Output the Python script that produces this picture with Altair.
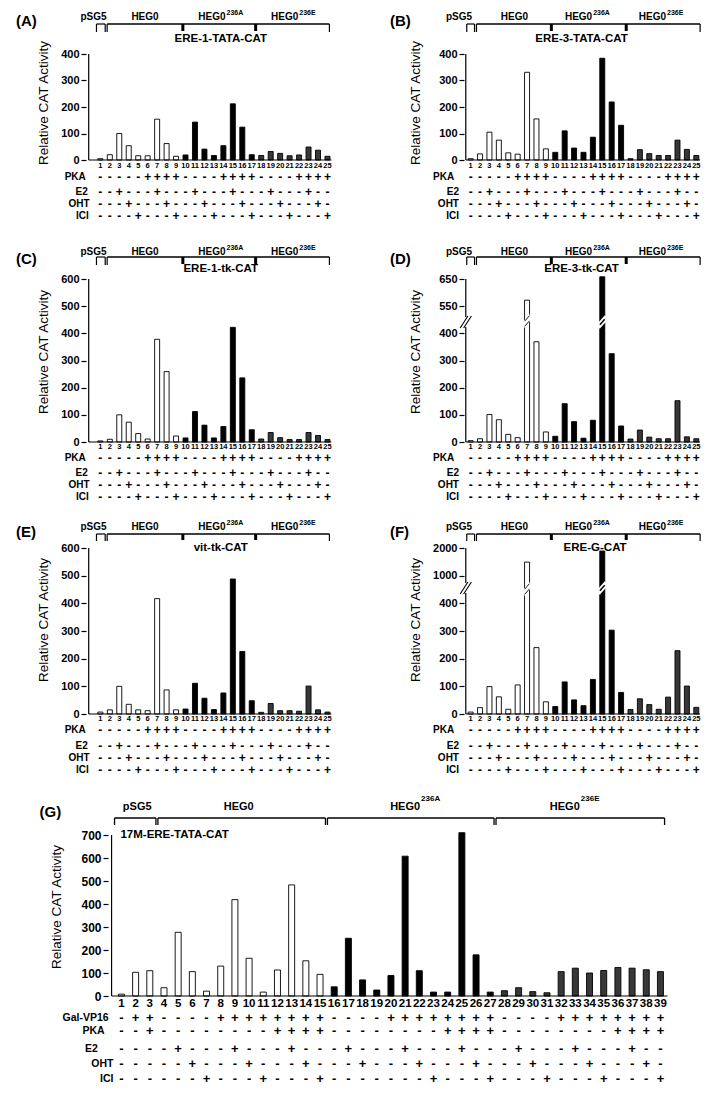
import altair as alt
import pandas as pd

FONT = "Liberation Sans"
BLACK, WHITE, STIPPLE = "#000000", "#ffffff", "#383838"

# ---------------- data ----------------
idx25 = list(range(1, 26))
idx39 = list(range(1, 40))

vals_A = [5, 20, 100, 54, 16, 16, 154, 62, 14, 19, 143, 41, 17, 54, 212, 124, 20, 17, 32, 25, 16, 19, 49, 37, 14]
vals_B = [5, 23, 105, 75, 27, 22, 331, 155, 42, 29, 110, 45, 29, 86, 384, 219, 131, 5, 39, 24, 17, 17, 75, 40, 17]
vals_C = [4, 10, 100, 73, 31, 11, 378, 259, 22, 15, 112, 62, 15, 57, 422, 236, 45, 11, 35, 16, 9, 9, 35, 24, 9]
vals_D = [5, 12, 101, 82, 28, 16, 572, 369, 37, 21, 141, 75, 14, 80, 658, 325, 59, 11, 44, 18, 12, 12, 152, 19, 12]
vals_E = [7, 15, 100, 35, 15, 12, 417, 87, 15, 18, 111, 57, 16, 76, 488, 226, 48, 6, 38, 12, 12, 10, 101, 15, 7]
vals_F = [7, 23, 99, 62, 17, 105, 1490, 240, 44, 27, 116, 51, 30, 125, 1890, 303, 78, 16, 55, 34, 17, 61, 229, 101, 24]
vals_G = [8, 103, 110, 36, 277, 106, 21, 130, 419, 164, 17, 113, 483, 153, 94,
          40, 251, 70, 26, 89, 608, 110, 17, 17, 710, 179, 17,
          23, 36, 19, 14, 106, 121, 100, 111, 124, 121, 114, 106]

groups25 = ["pSG5"] + ["HEG0"] * 8 + ["236A"] * 8 + ["236E"] * 8
groups39 = ["pSG5"] * 3 + ["HEG0"] * 12 + ["236A"] * 12 + ["236E"] * 12

row_names25 = ["PKA", "E2", "OHT", "ICI"]
pka25 = "-----++++----++++----++++"
e2_25 = "--+---+---+---+---+---+--"
oht25 = "---+---+---+---+---+---+-"
ici25 = "----+---+---+---+---+---+"

row_names39 = ["Gal-VP16", "PKA", "E2", "OHT", "ICI"]
vp16_39 = "-++----++++++++----++++++++----++++++++"
pka39 = "--+--------++++--------++++--------++++"
e2_39 = "----+---+---+---+---+---+---+---+---+--"
oht39 = "-----+---+---+---+---+---+---+---+---+-"
ici39 = "------+---+---+-------+---+---+---+---+"

group_labels = ["pSG5", "HEG0", "HEG0", "HEG0"]
group_sups = ["", "", "236A", "236E"]

ticks400 = [0, 100, 200, 300, 400]
ticks600 = [0, 100, 200, 300, 400, 500, 600]
ticks700 = [0, 100, 200, 300, 400, 500, 600, 700]
labels_D = {500: "550", 600: "650"}
labels_F = {500: "1000", 600: "2000"}


def disp_D(v):
    return v if v <= 450 else v - 50


def disp_F(v):
    return v if v <= 450 else 500 + (v - 1000) / 10


# ---------------- layout (page pixels) ----------------
SMALL = dict(bw=5, idx_size=7.5, sym_size=12, rowlab_size=10, lab_size=10, sup_size=7,
             title_size=11.5, tick_size=11)
COL_L = dict(left=8, right=348, bar1=98, sp=9.75, axis=86, base_end=336,
             ytitle_x=40, letter_x=11, rowlab=[83, 85, 87, 86],
             lab_p=91, lab_h=144, lab_a=227, lab_e=302,
             br_p=(94, 103), br_m=(105, 334), br_t=(183, 258))
COL_R = dict(left=348, right=709, bar1=469, sp=9.67, axis=464, base_end=705,
             ytitle_x=413, letter_x=386, rowlab=[452, 457, 457, 457],
             lab_p=457, lab_h=514, lab_a=594, lab_e=670,
             br_p=(465, 473), br_m=(475, 705), br_t=(552, 629))
ROW1 = dict(top=8, bottom=242, zero=159, ppu=106 / 400, index=165, table=[175.5, 190.5, 202.7, 214.9],
            lab=16, sup=12, line=23, leg=31, letter=20, title=38, ytitle_y=102)
ROW2 = dict(top=242, bottom=514, zero=440, ppu=163 / 600, index=445, table=[455.5, 471, 483.2, 495.4],
            lab=250, sup=246, line=255, leg=263, letter=257, title=267, ytitle_y=350)
ROW3 = dict(top=514, bottom=790, zero=712, ppu=166 / 600, index=717, table=[727.5, 743.5, 755.7, 767.9],
            lab=525, sup=521, line=532, leg=539, letter=530, title=546, ytitle_y=618)
GEO_G = dict(left=8, right=709, top=790, bottom=1087, bar1=118, sp=14.39, zero=994, ppu=161 / 700,
             axis=108, base_end=672, index=1002, table=[1015.5, 1029, 1047, 1062, 1077],
             rowlab=[105, 101, 94, 110, 110], ytitle_x=53, ytitle_y=905, letter_x=35, letter=810,
             lab=805, sup=797, line=816, leg=823, title=833,
             lab_p=134, lab_h=237, lab_a=421, lab_e=583,
             brackets=[(111, 153), (155, 325), (327, 496), (498, 669)],
             bw=6, idx_size=11.5, sym_size=13, rowlab_size=10.5, lab_size=11, sup_size=8,
             title_size=11.5, tick_size=12)


def make_panel(geo, letter, title, title_x, idx, vals, groups, rows, ticks,
               label_map=None, disp=None, breaks=None, title_align="center"):
    L, R, T, BOT = geo["left"], geo["right"], geo["top"], geo["bottom"]
    b1, sp, z, ppu = geo["bar1"], geo["sp"], geo["zero"], geo["ppu"]

    def X(px):
        return 1 + (px - b1) / sp

    def Y(py):
        return (z - py) / ppu

    xs = alt.Scale(domain=[X(L), X(R)], nice=False, zero=False)
    ys = alt.Scale(domain=[Y(BOT), Y(T)], nice=False, zero=False)

    ax_kw = dict(values=ticks, offset=-(geo["axis"] - L), domain=False, grid=False,
                 tickSize=5, tickWidth=1.2, tickColor=BLACK, labelFont=FONT,
                 labelFontSize=geo["tick_size"], labelFontWeight="bold", labelColor=BLACK,
                 labelPadding=2, title=None)
    if label_map:
        expr = "datum.label"
        for k, s in label_map.items():
            expr = f"datum.value == {k} ? '{s}' : " + expr
        ax_kw["labelExpr"] = expr
    yaxis = alt.Axis(**ax_kw)

    def ex(f):
        return alt.X(f, type="quantitative", scale=xs, axis=None)

    def ey(f):
        return alt.Y(f, type="quantitative", scale=ys, axis=yaxis, stack=None)

    def texts(items, size, weight="bold", align="center", angle=None):
        df = pd.DataFrame(items, columns=["x", "y", "t"])
        kw = dict(font=FONT, fontSize=size, fontWeight=weight, align=align,
                  baseline="middle", color=BLACK)
        if angle is not None:
            kw["angle"] = angle
        return alt.Chart(df).mark_text(**kw).encode(x=ex("x"), y=ey("y"), text="t:N")

    def rules(items):
        df = pd.DataFrame(items, columns=["x", "y", "x2", "y2", "w", "c"])
        return alt.Chart(df).mark_rule().encode(
            x=ex("x"), y=ey("y"), x2="x2", y2="y2",
            strokeWidth=alt.StrokeWidth("w:Q", scale=None),
            color=alt.Color("c:N", scale=None))

    shown = [disp(v) for v in vals] if disp else list(vals)
    bar_df = pd.DataFrame({"i": idx, "v": vals, "d": shown, "g": groups})
    bars = alt.Chart(bar_df).mark_bar(size=geo["bw"], stroke=BLACK, strokeWidth=0.9).encode(
        x=ex("i"),
        y=ey("d"),
        y2=alt.datum(0),
        fill=alt.Fill("g:N", scale=alt.Scale(domain=["pSG5", "HEG0", "236A", "236E"],
                                              range=[WHITE, WHITE, BLACK, STIPPLE]), legend=None),
    )
    layers = [bars]
    ax = geo["axis"]
    layers.append(rules([(X(ax), 0, X(ax), ticks[-1], 1.2, BLACK),
                         (X(ax), 0, X(geo["base_end"]), 0, 1.2, BLACK)]))

    if breaks:
        items = []
        ya = breaks["axis"]
        items.append((X(ax), Y(ya + 5), X(ax), Y(ya - 5), 3, WHITE))
        for dx in (-1.8, 1.8):
            items.append((X(ax + dx - 4), Y(ya + 6), X(ax + dx + 4), Y(ya - 6), 1.1, BLACK))
        h = geo["bw"] / 2
        k = 5 * h / 4.5
        for (i, yb, kind) in breaks["bars"]:
            px = b1 + (i - 1) * sp
            items.append((X(px - 4.5), Y(yb + 5), X(px + 4.5), Y(yb - 5), 5, WHITE))
            if kind == "black":
                items.append((X(px - h), Y(yb + k), X(px + h), Y(yb - k), 1.5, BLACK))
            else:
                for off in (-2.6, 2.6):
                    items.append((X(px - h), Y(yb + k + off), X(px + h), Y(yb - k + off), 0.9, BLACK))
        layers.append(rules(items))

    # bar numbers
    layers.append(texts([(i, Y(geo["index"]), str(i)) for i in idx], geo["idx_size"]))
    # +/- table
    cells, labs = [], []
    for (name, s), py, rx in zip(rows, geo["table"], geo["rowlab"]):
        cells += [(i, Y(py), ch) for i, ch in zip(idx, s)]
        labs.append((X(rx), Y(py), name))
    layers.append(texts(cells, geo["sym_size"]))
    layers.append(texts(labs, geo["rowlab_size"], align="right"))

    # group labels
    lab_y, sup_y = Y(geo["lab"]), Y(geo["sup"])
    layers.append(texts([(X(geo["lab_p"]), lab_y, group_labels[0]),
                         (X(geo["lab_h"]), lab_y, group_labels[1])], geo["lab_size"]))
    layers.append(texts([(X(geo["lab_a"]), lab_y, group_labels[2]),
                         (X(geo["lab_e"]), lab_y, group_labels[3])], geo["lab_size"], align="right"))
    layers.append(texts([(X(geo["lab_a"] + 1), sup_y, group_sups[2]),
                         (X(geo["lab_e"] + 1), sup_y, group_sups[3])], geo["sup_size"], align="left"))

    # brackets
    ly, lg = geo["line"], geo["leg"]
    segs = []
    if "brackets" in geo:
        for a, b in geo["brackets"]:
            segs += [(a, ly, b, ly, 1.3), (a, ly, a, lg, 1.3), (b, ly, b, lg, 1.3)]
    else:
        a, b = geo["br_p"]
        segs += [(a, ly, b, ly, 1.2), (a, ly, a, lg, 1.2), (b, ly, b, lg, 1.2)]
        a, b = geo["br_m"]
        segs += [(a, ly, b, ly, 1.3), (a, ly, a, lg, 1.2), (b, ly, b, lg, 1.2)]
        for t in geo["br_t"]:
            segs.append((t, ly, t, lg - 1, 3))
    layers.append(rules([(X(a), Y(b), X(c), Y(d), w, BLACK) for a, b, c, d, w in segs]))

    # titles
    layers.append(texts([(X(title_x), Y(geo["title"]), title)], geo["title_size"], align=title_align))
    layers.append(texts([(X(geo["letter_x"]), Y(geo["letter"]), letter)], 15, align="left"))
    layers.append(texts([(X(geo["ytitle_x"]), Y(geo["ytitle_y"]), "Relative CAT Activity")],
                        13.5, weight="normal", angle=270))

    return alt.layer(*layers).properties(width=R - L, height=BOT - T)


rows25 = list(zip(row_names25, [pka25, e2_25, oht25, ici25]))
rows39 = list(zip(row_names39, [vp16_39, pka39, e2_39, oht39, ici39]))

pA = make_panel({**SMALL, **COL_L, **ROW1}, "(A)", "ERE-1-TATA-CAT", 222, idx25, vals_A, groups25, rows25, ticks400)
pB = make_panel({**SMALL, **COL_R, **ROW1}, "(B)", "ERE-3-TATA-CAT", 583, idx25, vals_B, groups25, rows25, ticks400)
pC = make_panel({**SMALL, **COL_L, **ROW2}, "(C)", "ERE-1-tk-CAT", 222, idx25, vals_C, groups25, rows25, ticks600)
pD = make_panel({**SMALL, **COL_R, **ROW2}, "(D)", "ERE-3-tk-CAT", 583, idx25, vals_D, groups25, rows25, ticks600,
                label_map=labels_D, disp=disp_D,
                breaks=dict(axis=320, bars=[(7, 319, "white"), (15, 320, "black")]))
pE = make_panel({**SMALL, **COL_L, **ROW3}, "(E)", "vit-tk-CAT", 222, idx25, vals_E, groups25, rows25, ticks600)
pF = make_panel({**SMALL, **COL_R, **ROW3}, "(F)", "ERE-G-CAT", 597, idx25, vals_F, groups25, rows25, ticks600,
                label_map=labels_F, disp=disp_F,
                breaks=dict(axis=586, bars=[(7, 587, "white"), (15, 586, "black")]))
pG = make_panel(GEO_G, "(G)", "17M-ERE-TATA-CAT", 117, idx39, vals_G, groups39, rows39, ticks700,
                title_align="left")

chart = alt.vconcat(
    alt.hconcat(pA, pB, spacing=0),
    alt.hconcat(pC, pD, spacing=0),
    alt.hconcat(pE, pF, spacing=0),
    pG,
    spacing=0,
).properties(padding=0).configure_view(stroke=None)

chart.save("out.html", embed_options={"renderer": "svg", "actions": False})
